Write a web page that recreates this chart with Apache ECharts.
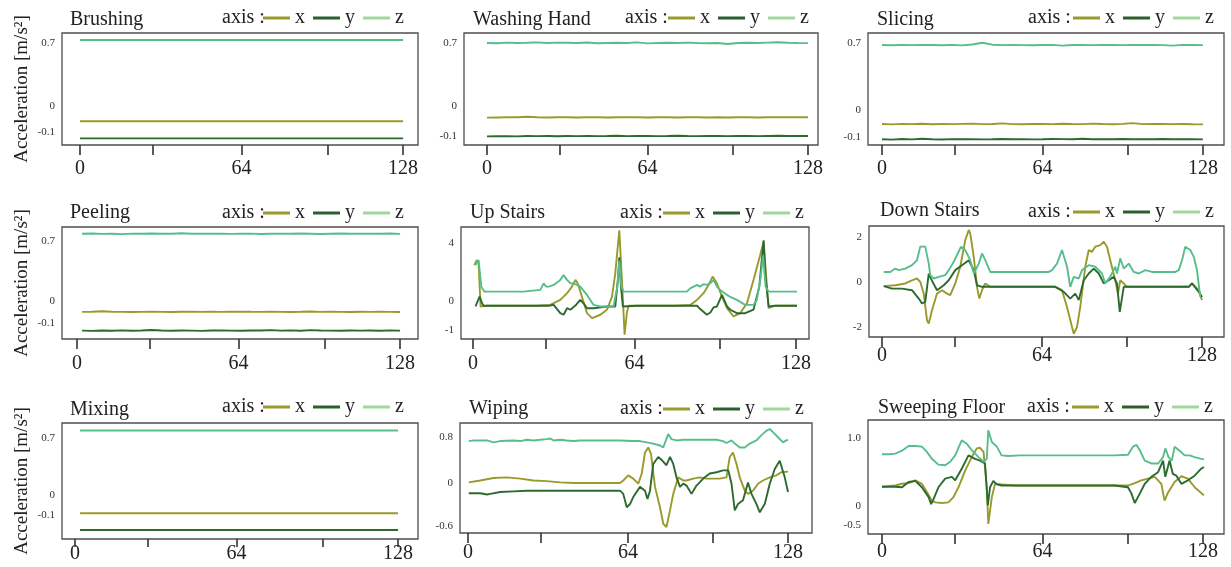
<!DOCTYPE html>
<html>
<head>
<meta charset="utf-8">
<script src="https://cdn.jsdelivr.net/npm/echarts@6.0.0/dist/echarts.min.js"></script>
<style>html,body{margin:0;padding:0;background:#fff;}#c{width:1231px;height:567px;}</style>
</head>
<body>
<div id="c"></div>
<script>
// ---------------- data ----------------
const panelTitles = ['Brushing', 'Washing Hand', 'Slicing', 'Peeling', 'Up Stairs', 'Down Stairs', 'Mixing', 'Wiping', 'Sweeping Floor'];
const axisNames = ['x', 'y', 'z'];
const legendPrefix = 'axis :';
const yAxisTitle = 'Acceleration [m/s²]';
const xTickValues = [0, 29, 64, 98, 128];
const xTickLabels = [0, 64, 128];

// y tick labels per panel (value where label sits, text shown)
const brushYTicks = [0.7, 0.136, -0.1],  brushYText = ['0.7', '0', '-0.1'];
const washYTicks  = [0.7, 0.158, -0.1],  washYText  = ['0.7', '0', '-0.1'];
const sliceYTicks = [0.7, 0.129, -0.1],  sliceYText = ['0.7', '0', '-0.1'];
const peelYTicks  = [0.7, 0.117, -0.1],  peelYText  = ['0.7', '0', '-0.1'];
const upYTicks    = [4, 0.632, -1],      upYText    = ['4', '0', '-1'];
const downYTicks  = [2, 0, -2],          downYText  = ['2', '0', '-2'];
const mixYTicks   = [0.7, 0.107, -0.1],  mixYText   = ['0.7', '0', '-0.1'];
const wipeYTicks  = [0.8, 0.079, -0.6],  wipeYText  = ['0.8', '0', '-0.6'];
const sweepYTicks = [1.0, -0.171, -0.5], sweepYText = ['1.0', '0', '-0.5'];

// Brushing (flat)
const brushX = [[0, -0.004], [128, -0.004]];
const brushY = [[0, -0.157], [128, -0.157]];
const brushZ = [[0, 0.727], [128, 0.727]];

// Washing Hand (samples every 4)
const washX = [0.058,0.060,0.061,0.062,0.066,0.061,0.060,0.062,0.061,0.060,0.062,0.061,0.060,0.061,0.062,0.061,0.060,0.062,0.061,0.060,0.061,0.062,0.060,0.061,0.060,0.062,0.061,0.060,0.062,0.061,0.063,0.062,0.062];
const washY = [-0.103,-0.102,-0.101,-0.103,-0.099,-0.101,-0.100,-0.102,-0.100,-0.101,-0.099,-0.101,-0.100,-0.098,-0.101,-0.100,-0.099,-0.101,-0.100,-0.098,-0.100,-0.101,-0.099,-0.100,-0.101,-0.099,-0.100,-0.101,-0.099,-0.098,-0.100,-0.099,-0.099];
const washZ = [0.700,0.698,0.703,0.700,0.702,0.705,0.700,0.703,0.702,0.700,0.704,0.698,0.700,0.702,0.700,0.705,0.697,0.700,0.702,0.700,0.703,0.700,0.698,0.700,0.692,0.700,0.702,0.700,0.703,0.706,0.702,0.700,0.699];

// Slicing
const sliceX = [0.009,0.006,0.010,0.008,0.011,0.007,0.009,0.008,0.010,0.012,0.008,0.009,0.014,0.008,0.007,0.009,0.010,0.008,0.011,0.009,0.008,0.012,0.009,0.007,0.010,0.016,0.008,0.009,0.010,0.008,0.009,0.007,0.006];
const sliceY = [-0.122,-0.125,-0.120,-0.123,-0.118,-0.122,-0.124,-0.121,-0.122,-0.121,-0.123,-0.122,-0.120,-0.122,-0.121,-0.123,-0.122,-0.120,-0.121,-0.122,-0.118,-0.122,-0.121,-0.122,-0.120,-0.122,-0.121,-0.122,-0.120,-0.122,-0.121,-0.122,-0.123];
const sliceZ = [0.685,0.683,0.686,0.684,0.686,0.685,0.683,0.686,0.682,0.690,0.705,0.688,0.684,0.686,0.684,0.683,0.685,0.686,0.680,0.685,0.686,0.684,0.685,0.686,0.684,0.685,0.686,0.685,0.684,0.680,0.686,0.685,0.684];

// Peeling
const peelX = [0.006,0.008,0.012,0.007,0.006,0.005,0.006,0.007,0.006,0.005,0.007,0.008,0.006,0.007,0.006,0.008,0.009,0.007,0.006,0.007,0.006,0.005,0.007,0.010,0.006,0.007,0.006,0.005,0.007,0.006,0.008,0.006,0.005];
const peelY = [-0.179,-0.181,-0.178,-0.180,-0.176,-0.180,-0.178,-0.172,-0.177,-0.180,-0.178,-0.179,-0.181,-0.177,-0.176,-0.179,-0.180,-0.178,-0.177,-0.174,-0.179,-0.176,-0.180,-0.174,-0.178,-0.179,-0.180,-0.177,-0.179,-0.178,-0.180,-0.176,-0.179];
const peelZ = [0.776,0.778,0.774,0.776,0.772,0.777,0.776,0.778,0.775,0.776,0.780,0.776,0.775,0.777,0.776,0.774,0.776,0.777,0.773,0.776,0.777,0.775,0.778,0.776,0.773,0.776,0.778,0.775,0.776,0.777,0.775,0.778,0.774];

// Up Stairs
const upX = [[0.5,2.75],[1.5,3.04],[2.2,2.9],[3.0,0.35],[3.6,0.3],[5.5,0.39],[15,0.39],[25,0.39],[30.6,0.44],[34.6,0.73],[37.3,1.12],[39.2,1.5],[40.6,1.89],[41.5,1.7],[43,1.0],[45.2,-0.04],[47.2,-0.33],[50.5,-0.13],[53.1,0.16],[55.1,0.92],[56.4,2.27],[58,4.77],[59.0,2.0],[60.1,-1.29],[61.0,0.0],[61.7,0.39],[70,0.39],[80,0.39],[86.1,0.44],[88.8,0.73],[91.4,1.12],[93.4,1.6],[95,2.08],[96.7,1.69],[98.7,0.92],[100.7,0.25],[103.3,-0.23],[105.9,-0.04],[108.6,0.54],[111.2,1.89],[113.8,3.3],[115.2,4.1],[116,2.5],[117.2,0.25],[119.2,0.39],[128.4,0.39]];
const upY = [[1,0.35],[2.6,0.92],[3.6,0.54],[4.2,0.39],[10,0.39],[20,0.39],[30,0.39],[32,0.44],[34.6,-0.04],[35.9,-0.13],[37.3,0.25],[38.6,0.16],[40.6,0.4],[42.5,0.73],[44,0.5],[45.2,0.25],[47.8,0.25],[53.1,0.35],[56.4,0.35],[57.5,2.0],[58,3.2],[58.6,1.6],[59.4,0.35],[65,0.39],[75,0.39],[84.8,0.39],[88.8,0.39],[90.1,0.2],[92.7,-0.13],[94.1,0.0],[95.4,0.3],[96.7,0.35],[98.7,1.02],[100.7,0.35],[102,0.16],[104.6,-0.04],[107.9,-0.04],[111.2,0.16],[113.5,1.5],[115.2,4.19],[116,2.0],[117.2,0.35],[120,0.39],[128.4,0.39]];
const upZ = [[1,2.75],[2.2,3.04],[3.3,1.5],[4.5,1.21],[8,1.21],[15,1.21],[20,1.21],[26.7,1.31],[27.3,1.4],[28,1.69],[29,1.5],[30,1.5],[32,1.6],[34.6,1.89],[35.9,2.17],[37.3,1.89],[38.6,1.69],[39.9,1.69],[41.2,1.6],[42.5,1.5],[45.2,1.02],[47.8,0.44],[50.5,0.35],[53.1,0.35],[55.7,0.35],[56.4,0.44],[57.2,1.5],[58,3.0],[58.8,1.5],[59.7,1.21],[65,1.21],[75,1.21],[84.8,1.21],[86.1,1.4],[87.5,1.5],[88.8,1.6],[90,1.5],[91.5,1.65],[92.7,1.6],[94.1,1.7],[95.4,1.89],[96.7,1.5],[98,1.3],[100.7,1.02],[102,0.9],[104.6,0.73],[107.9,0.44],[111.2,0.44],[112.5,0.73],[114,2.0],[115,3.3],[116,1.5],[117.2,1.21],[120,1.21],[128.4,1.21]];

// Down Stairs
const downX = [[0.7,-0.19],[5.3,-0.15],[9.3,-0.07],[12,0.07],[14,0.15],[15.3,0.0],[16.7,-0.52],[18,-1.7],[18.7,-1.85],[20,-1.26],[22,-0.52],[24,-0.37],[26,-0.52],[27.3,-0.59],[29.3,-0.07],[31.3,0.67],[33.3,1.85],[34.7,2.3],[35.3,2.15],[36.7,1.11],[38,-0.22],[38.9,-0.74],[40,-0.37],[41.3,-0.07],[43.3,-0.22],[55,-0.22],[69.3,-0.22],[72,-0.37],[74,-1.11],[76,-2.0],[76.7,-2.3],[78,-2.0],[79.3,-1.11],[81.3,0.67],[82.7,1.41],[84,1.33],[85.3,1.56],[87.3,1.63],[88.7,1.78],[90,1.56],[91.3,0.96],[93.3,0.07],[94.4,-0.52],[95.3,0.07],[96.7,-0.07],[98,-0.22],[110,-0.22],[122.7,-0.22],[124,-0.07],[126.7,-0.37],[128,-0.81]];
const downY = [[0.7,-0.19],[4,-0.3],[8,-0.3],[12,-0.37],[14.7,-0.74],[16,-0.96],[17.3,-0.89],[18.7,0.37],[19.3,0.2],[22,-0.37],[24.7,-0.15],[26.7,0.07],[29.3,0.52],[32,0.74],[34.7,0.96],[35.3,0.89],[36.7,0.52],[38,-0.15],[40,-0.22],[50,-0.22],[69.3,-0.22],[72.7,-0.44],[75.3,-0.74],[77.3,-0.52],[78.7,-0.81],[80.7,0.07],[82.7,0.37],[84.7,0.59],[86.7,0.37],[88.7,-0.07],[90.7,0.07],[92.7,0.22],[94,-0.07],[95.1,-1.33],[96.7,-0.22],[98.7,-0.22],[110,-0.22],[122.7,-0.22],[124,-0.07],[126.7,-0.44],[128,-0.67]];
const downZ = [[0.7,0.44],[3.3,0.44],[5.3,0.59],[6.7,0.52],[9.3,0.59],[12,0.74],[14,0.96],[15.3,1.56],[16,1.63],[17.3,1.56],[18.7,0.81],[19.3,0.3],[20.7,0.15],[22.7,0.22],[25.3,0.3],[26.7,0.52],[28.7,0.89],[30,1.19],[31.6,1.56],[33.3,1.41],[35.3,0.96],[36.7,0.37],[38.7,0.81],[40,1.26],[41.3,0.96],[43.3,0.44],[45.3,0.44],[55,0.44],[66.7,0.44],[68,0.52],[70,0.81],[72,1.41],[74,0.67],[75.3,-0.22],[76.7,0.22],[78.7,0.15],[80,0.52],[82.7,0.74],[85.3,0.67],[88,0.37],[89.3,-0.07],[91.3,0.22],[93.3,0.67],[94,0.37],[95.3,1.04],[96.7,0.59],[98.7,0.81],[100.7,0.44],[102.7,0.37],[105.3,0.52],[108,0.44],[117.3,0.44],[118.7,0.52],[120,0.96],[121.3,1.56],[123.3,1.41],[124.7,1.11],[126,0.52],[127.3,-0.67]];

// Mixing (flat)
const mixX = [[2, -0.076], [128, -0.076]];
const mixY = [[2, -0.249], [128, -0.249]];
const mixZ = [[2, 0.780], [128, 0.780]];

// Wiping
const wipeX = [[0.3,0.09],[4.9,0.12],[10.2,0.16],[15.6,0.17],[20.9,0.15],[26.2,0.12],[31.5,0.11],[36.9,0.09],[42.2,0.08],[47.5,0.08],[55.5,0.08],[60.8,0.08],[62.1,0.12],[64.1,0.20],[66.1,0.15],[68.1,0.07],[69.5,0.23],[70.8,0.56],[72.1,0.64],[73.2,0.54],[74.8,0.02],[76.8,-0.30],[78.1,-0.56],[79.4,-0.61],[80.8,-0.35],[82.1,-0.09],[84.1,0.17],[86.1,0.12],[87.4,0.12],[90.1,0.15],[92.7,0.17],[95.4,0.15],[98.1,0.15],[100.7,0.15],[103.4,0.17],[104.7,0.49],[106,0.56],[107.4,0.38],[108.7,0.17],[110.7,-0.04],[112,-0.09],[114,-0.04],[116,0.07],[118,0.12],[120.7,0.17],[123.3,0.20],[125.3,0.25],[128,0.26]];
const wipeY = [[0.3,-0.08],[4.9,-0.08],[7.6,-0.10],[8.9,-0.09],[12.9,-0.06],[18.2,-0.05],[23.5,-0.04],[31.5,-0.04],[42.2,-0.04],[52.8,-0.04],[60.8,-0.04],[62.1,-0.09],[63.5,-0.30],[64.8,-0.25],[66.1,-0.14],[68.8,0.02],[70.8,-0.04],[71.8,-0.17],[72.8,-0.04],[74.1,0.38],[76.1,0.49],[77.8,0.43],[79.4,0.36],[80.8,0.49],[82.1,0.38],[83.4,0.17],[84.8,0.02],[86.1,0.07],[87.4,0.04],[89.4,-0.09],[91.4,0.04],[94.1,0.15],[96.7,0.23],[99.4,0.25],[102,0.28],[104.1,0.28],[105.4,0.07],[106.7,-0.35],[108,-0.25],[110,-0.19],[112,0.09],[113.4,-0.09],[115.4,-0.25],[116.7,-0.38],[118.7,-0.25],[120.7,0.07],[122.7,0.30],[124.7,0.43],[126.7,0.17],[128,-0.06]];
const wipeZ = [[0.3,0.74],[2.3,0.75],[7.6,0.75],[10.2,0.72],[12.9,0.74],[18.2,0.75],[20.9,0.74],[23.5,0.76],[26.2,0.75],[28.9,0.76],[31.5,0.77],[32.9,0.78],[34.2,0.75],[36.9,0.76],[39.5,0.75],[42.2,0.74],[44.8,0.75],[50.2,0.75],[55.5,0.75],[60.8,0.75],[66.1,0.74],[68.8,0.74],[71.5,0.72],[74.1,0.70],[76.8,0.67],[78.1,0.64],[80.1,0.85],[81.4,0.77],[83.4,0.75],[86.1,0.76],[88.7,0.76],[91.4,0.76],[96.7,0.76],[99.4,0.76],[102,0.74],[103.4,0.71],[105.4,0.75],[106.7,0.70],[108.7,0.64],[110.7,0.64],[112.7,0.70],[115.4,0.75],[117.3,0.83],[119.3,0.90],[120.7,0.93],[122,0.88],[124,0.80],[126,0.72],[127.3,0.75],[128,0.76]];

// Sweeping Floor
const sweepX = [[0,0.17],[5.3,0.19],[8,0.22],[9.9,0.23],[11.9,0.25],[13.3,0.28],[15.9,0.22],[17.9,0.08],[19.9,-0.07],[21.2,-0.10],[23.9,-0.11],[26.5,-0.10],[28.5,-0.01],[30.5,0.16],[33.2,0.45],[35.8,0.68],[37.8,0.83],[39.1,0.84],[40.5,0.77],[41.8,0.16],[42.4,-0.47],[43.8,-0.01],[45.1,0.22],[47.7,0.21],[53,0.19],[66.3,0.19],[79.6,0.19],[92.8,0.19],[98.1,0.19],[100.8,0.23],[103.4,0.28],[106.1,0.31],[108.8,0.34],[111.4,0.22],[112.7,-0.07],[113.4,-0.10],[114.1,0.07],[116.7,0.25],[119.4,0.35],[122,0.31],[124.7,0.16],[128.4,0.02]];
const sweepY = [[0,0.17],[5.3,0.17],[8,0.16],[10.6,0.25],[13.3,0.27],[15.9,0.16],[18.6,-0.01],[19.6,-0.13],[20.6,-0.04],[22.5,0.16],[25.2,0.31],[27.9,0.34],[29.2,0.28],[31.8,0.48],[34.5,0.71],[37.1,0.65],[39.1,0.62],[41.1,0.57],[42.2,-0.15],[43.1,0.16],[44.4,0.27],[45.8,0.21],[47.7,0.19],[53,0.19],[66.3,0.19],[79.6,0.19],[92.8,0.19],[98.1,0.16],[99.5,0.05],[100.8,-0.11],[102.8,0.05],[104.8,0.22],[107.4,0.34],[110.1,0.42],[112.1,0.62],[113,0.34],[114.7,0.62],[116,0.39],[117.4,0.36],[119.4,0.22],[122,0.28],[124.7,0.36],[127.3,0.48],[128.4,0.51]];
const sweepZ = [[0,0.73],[2.7,0.73],[5.3,0.74],[8,0.79],[10.6,0.87],[13.3,0.87],[15.9,0.86],[17.9,0.77],[19.9,0.65],[22.5,0.55],[25.2,0.54],[27.2,0.60],[29.2,0.71],[31.8,0.97],[33.8,0.91],[35.8,0.80],[38.5,0.68],[40.5,0.60],[41.8,0.65],[42.4,1.14],[43.8,0.94],[45.8,0.86],[47.7,0.71],[50.4,0.70],[55,0.71],[66.3,0.71],[79.6,0.71],[92.8,0.71],[98.1,0.72],[100.1,0.86],[101.5,0.89],[102.8,0.80],[104.8,0.62],[107.4,0.57],[110.1,0.57],[112.1,0.68],[113,0.83],[114.3,0.68],[115.6,0.62],[116.7,0.86],[118.7,0.79],[120.7,0.71],[122.7,0.71],[124.7,0.68],[127.3,0.65],[128.4,0.64]];

// ---------------- build ----------------
function toPairs(values, t0) {
  const step = (128 - t0) / (values.length - 1);
  return values.map((v, i) => [t0 + i * step, v]);
}

const panels = [
  { x: brushX, y: brushY, z: brushZ, ticks: brushYTicks, text: brushYText },
  { x: toPairs(washX, 0), y: toPairs(washY, 0), z: toPairs(washZ, 0), ticks: washYTicks, text: washYText },
  { x: toPairs(sliceX, 0), y: toPairs(sliceY, 0), z: toPairs(sliceZ, 0), ticks: sliceYTicks, text: sliceYText },
  { x: toPairs(peelX, 2), y: toPairs(peelY, 2), z: toPairs(peelZ, 2), ticks: peelYTicks, text: peelYText },
  { x: upX, y: upY, z: upZ, ticks: upYTicks, text: upYText },
  { x: downX, y: downY, z: downZ, ticks: downYTicks, text: downYText },
  { x: mixX, y: mixY, z: mixZ, ticks: mixYTicks, text: mixYText },
  { x: wipeX, y: wipeY, z: wipeZ, ticks: wipeYTicks, text: wipeYText },
  { x: sweepX, y: sweepY, z: sweepZ, ticks: sweepYTicks, text: sweepYText }
];

// layout: box [left, top, width, height], axis ranges, text anchors
const layout = [
  { box: [62, 33, 356, 112],  xr: [-7.13, 133.9], yr: [-0.217, 0.790], title: [70, 20],   axisAt: 222,  legend: [263, 18],  margin: 14, tick: 10, yName: true },
  { box: [464, 33, 354, 112], xr: [-9.17, 132.0], yr: [-0.177, 0.786], title: [473, 20],  axisAt: 625,  legend: [668, 18],  margin: 14, tick: 10 },
  { box: [868, 33, 356, 112], xr: [-5.58, 136.4], yr: [-0.171, 0.788], title: [877, 20],  axisAt: 1028, legend: [1073, 18], margin: 14, tick: 10 },
  { box: [62, 227, 356, 112], xr: [-5.95, 135.1], yr: [-0.261, 0.842], title: [70, 213],  axisAt: 222,  legend: [263, 213], margin: 15, tick: 10, yName: true },
  { box: [461, 227, 348, 112],xr: [-4.76, 133.2], yr: [-1.536, 4.957], title: [470, 213], axisAt: 620,  legend: [663, 213], margin: 15, tick: 10 },
  { box: [869, 226, 355, 111],xr: [-5.2, 136.8],  yr: [-2.444, 2.476], title: [880, 211], axisAt: 1028, legend: [1073, 212], margin: 9, tick: 10 },
  { box: [62, 423, 356, 116], xr: [-5.15, 135.9], yr: [-0.342, 0.858], title: [70, 410],  axisAt: 222,  legend: [263, 407], margin: 5,  tick: 8, yName: true },
  { box: [460, 423, 352, 110],xr: [-3.2, 137.6],  yr: [-0.705, 1.024], title: [469, 409], axisAt: 620,  legend: [663, 409], margin: 10, tick: 10 },
  { box: [868, 420, 356, 114],xr: [-5.58, 136.4], yr: [-0.645, 1.319], title: [878, 408], axisAt: 1027, legend: [1072, 407], margin: 8, tick: 10 }
];

const FONT = '"Liberation Serif", "Times New Roman", serif';
const lineColors = { x: '#989a2c', y: '#2c6a30', z: '#58bd8c' };
const legendColors = { x: '#989a2c', y: '#2b5f2e', z: '#a2d79c' };
const textColor = '#222';

const grid = [], xAxis = [], yAxis = [], series = [], legend = [], graphic = [];

panels.forEach((p, i) => {
  const l = layout[i];
  grid.push({
    left: l.box[0], top: l.box[1], width: l.box[2], height: l.box[3],
    show: true, borderColor: '#4d4d4d', borderWidth: 1.3, backgroundColor: '#fff',
    containLabel: false, outerBoundsMode: 'none'
  });
  xAxis.push({
    type: 'value', gridIndex: i, min: l.xr[0], max: l.xr[1], position: 'bottom',
    axisLine: { show: false, onZero: false }, splitLine: { show: false },
    axisTick: { show: true, customValues: xTickValues, length: l.tick, inside: false, lineStyle: { color: '#333', width: 1.6 } },
    axisLabel: { show: true, customValues: xTickLabels, fontFamily: FONT, fontSize: 20, color: textColor, margin: l.margin }
  });
  yAxis.push({
    type: 'value', gridIndex: i, min: l.yr[0], max: l.yr[1],
    axisLine: { show: false, onZero: false }, axisTick: { show: false }, splitLine: { show: false },
    axisLabel: {
      show: true, customValues: p.ticks, fontFamily: FONT, fontSize: 11, color: '#333', margin: 7,
      formatter: (v) => {
        const k = p.ticks.findIndex(t => Math.abs(t - v) < 1e-6);
        return k >= 0 ? p.text[k] : '';
      }
    }
  });
  axisNames.forEach((n) => {
    series.push({
      type: 'line', name: n, xAxisIndex: i, yAxisIndex: i, data: p[n],
      symbol: 'none', showSymbol: false, silent: true,
      lineStyle: { width: 1.9, color: lineColors[n] }, itemStyle: { color: lineColors[n] }
    });
  });
  legend.push({
    left: l.legend[0], top: l.legend[1] - 10, padding: 0, orient: 'horizontal',
    itemWidth: 27, itemHeight: 3, itemGap: 8, icon: 'rect', selectedMode: false,
    textStyle: { fontFamily: FONT, fontSize: 20, color: textColor },
    data: axisNames.map(n => ({ name: n, itemStyle: { color: legendColors[n] } }))
  });
  graphic.push({
    type: 'text', x: l.title[0], y: l.title[1], silent: true,
    style: { text: panelTitles[i], font: '20px ' + FONT, fill: textColor, align: 'left', verticalAlign: 'middle' }
  });
  graphic.push({
    type: 'text', x: l.axisAt, y: l.legend[1], silent: true,
    style: { text: legendPrefix, font: '20px ' + FONT, fill: textColor, align: 'left', verticalAlign: 'middle' }
  });
  if (l.yName) {
    graphic.push({
      type: 'text', x: 22, y: l.box[1] + l.box[3] / 2, rotation: Math.PI / 2, silent: true,
      style: { text: yAxisTitle, font: '19px ' + FONT, fill: textColor, align: 'center', verticalAlign: 'middle' }
    });
  }
});

const chart = echarts.init(document.getElementById('c'), null, { renderer: 'canvas', width: 1231, height: 567 });
chart.setOption({
  animation: false,
  backgroundColor: '#fff',
  grid, xAxis, yAxis, series, legend, graphic
});
</script>
</body>
</html>
